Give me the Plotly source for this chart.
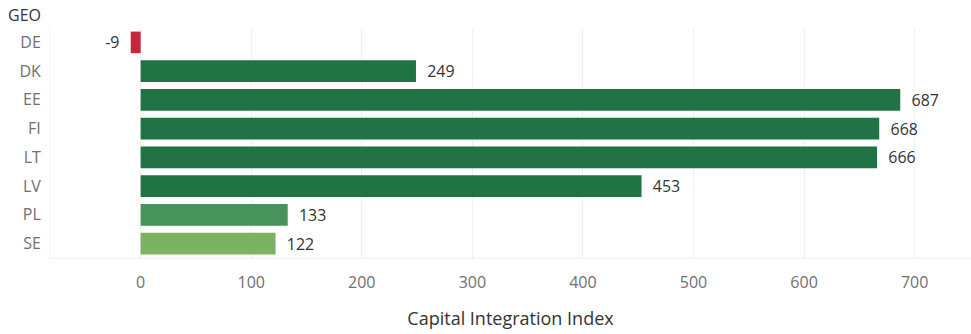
import plotly.graph_objects as go

geo = ["DE", "DK", "EE", "FI", "LT", "LV", "PL", "SE"]
index_values = [-9, 249, 687, 668, 666, 453, 133, 122]
bar_colors = ["#c8263c", "#217346", "#217346", "#217346", "#217346", "#217346", "#47935b", "#7bb361"]
x_ticks = [0, 100, 200, 300, 400, 500, 600, 700]

labels = [f"{v}  " if v < 0 else f"  {v}" for v in index_values]

fig = go.Figure(go.Bar(
    x=index_values,
    y=geo,
    orientation="h",
    marker=dict(color=bar_colors, line=dict(width=0)),
    text=labels,
    textposition="outside",
    cliponaxis=False,
    textfont=dict(size=17, color="#333333", family="Open Sans"),
    hoverinfo="x+y",
))

fig.update_layout(
    width=971, height=334,
    margin=dict(l=50, r=0, t=28, b=76),
    paper_bgcolor="white",
    plot_bgcolor="white",
    bargap=0.25,
    showlegend=False,
    font=dict(family="Open Sans", size=16, color="#707070"),
    xaxis=dict(
        range=[-82, 751],
        tickvals=x_ticks,
        showgrid=True, gridcolor="#f0f0f0", gridwidth=1,
        zeroline=False,
        showline=True, linecolor="#eeeeee", linewidth=1,
        ticks="outside", ticklen=10, tickcolor="rgba(0,0,0,0)",
        tickfont=dict(size=16, color="#707070"),
        title=dict(text="Capital Integration Index", standoff=20,
                   font=dict(size=18, color="#333333")),
    ),
    yaxis=dict(
        categoryorder="array", categoryarray=geo,
        autorange="reversed",
        showgrid=False, zeroline=False,
        showline=True, linecolor="#f4f4f4", linewidth=1,
        ticks="outside", ticklen=5, tickcolor="rgba(0,0,0,0)",
        tickfont=dict(size=16, color="#707070"),
    ),
    annotations=[dict(
        text="GEO", xref="paper", yref="paper",
        x=-44 / 921, y=1.0, xanchor="left", yanchor="bottom",
        yshift=0, showarrow=False,
        font=dict(size=16, color="#333333"),
    )],
)

fig.write_html("out.html")
